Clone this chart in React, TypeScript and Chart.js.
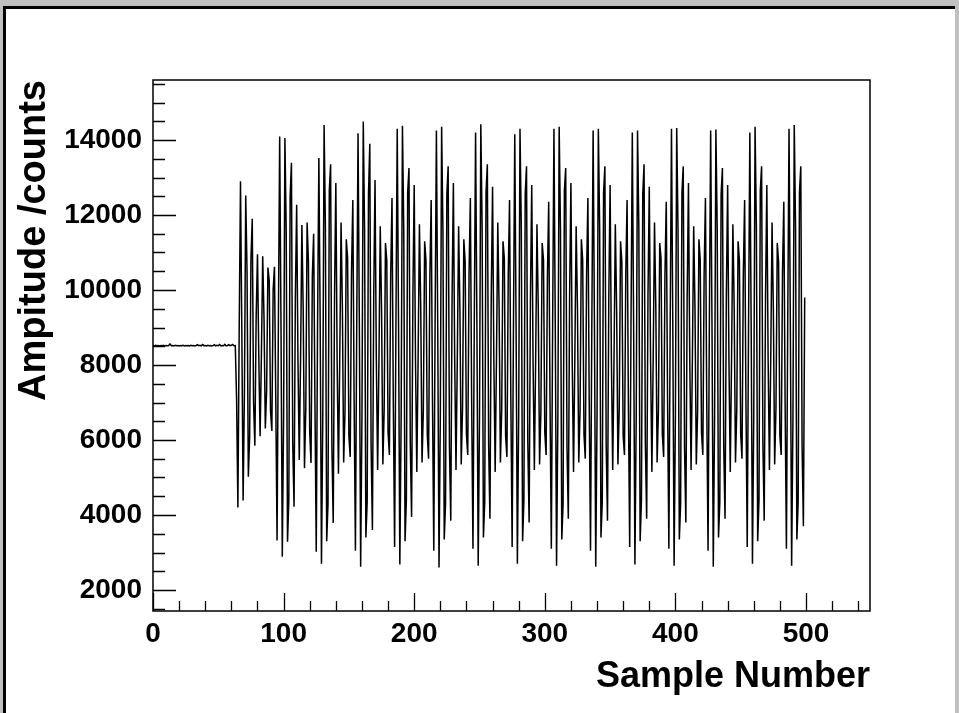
import React, { useEffect, useRef } from "react";
import { Chart, registerables } from "chart.js";

Chart.register(...registerables);

// ---- axis description ----
const xTickValues = [0, 100, 200, 300, 400, 500];
const yTickValues = [2000, 4000, 6000, 8000, 10000, 12000, 14000];
const xRange = [0, 549];
const yRange = [1440, 15600];
const xAxisTitle = "Sample Number";
const yAxisTitle = "Ampitude /counts";

// ---- waveform samples (ADC counts) ----
const flatBaseline = [
  8520, 8510, 8525, 8515, 8520, 8510, 8520, 8515,
  8525, 8510, 8520, 8515, 8520, 8560, 8515, 8520,
  8510, 8525, 8515, 8520, 8510, 8520, 8515, 8525,
  8510, 8520, 8515, 8520, 8510, 8525, 8515, 8520,
  8510, 8520, 8540, 8515, 8525, 8510, 8545, 8515,
  8520, 8510, 8525, 8515, 8520, 8510, 8520, 8540,
  8510, 8525, 8515, 8545, 8510, 8520, 8515, 8550,
  8510, 8520, 8540, 8515, 8525, 8550, 8515, 8520,
];

const onsetSamples = [
  7110, 4200, 8960, 12900, 8950, 4390, 7260, 12520, 10500, 5020,
  6090, 10840, 11900, 7000, 5850, 9300, 10950, 8240, 6100, 8250,
  10900, 9260, 6310, 7300, 10600, 10240, 6760, 6240, 10000, 10620,
  7110, 3320, 9080,
];

const period01 = [
  14090, 9100, 2890, 6650, 14050, 11600, 3290, 4400, 12500, 13390,
  5900, 4220, 9800, 12270, 8150, 5470, 8180, 11730, 9500, 5250,
  6850, 11800, 10750, 6200, 5390, 10350, 11500, 7000, 3020, 9050,
];
const period02 = [
  13520, 9150, 2700, 6600, 14400, 11700, 3300, 4300, 12650, 13350,
  5800, 3790, 9850, 12850, 8100, 5100, 8200, 11800, 9550, 5400,
  6750, 11350, 10850, 6100, 5550, 10450, 12400, 7050, 3050, 9100,
];
const period03 = [
  14180, 9080, 2620, 6650, 14490, 11600, 3400, 4350, 12550, 13900,
  5850, 3600, 9800, 12930, 8150, 5200, 8100, 11700, 9500, 5350,
  6800, 11250, 10800, 6200, 5600, 10400, 12450, 7000, 3150, 9050,
];
const period04 = [
  14300, 9150, 2680, 6600, 14380, 11650, 3300, 4400, 12600, 13250,
  5900, 3950, 9850, 12800, 8100, 5150, 8200, 11750, 9550, 5400,
  6800, 11300, 10800, 6150, 5500, 10400, 12400, 7050, 3050, 9100,
];
const period05 = [
  14250, 9100, 2600, 6650, 14350, 11600, 3350, 4300, 12550, 13300,
  5800, 3850, 9800, 12850, 8150, 5200, 8150, 11700, 9500, 5350,
  6850, 11350, 10750, 6150, 5600, 10450, 12450, 7000, 3100, 9100,
];
const period06 = [
  14200, 9120, 2650, 6600, 14420, 11700, 3400, 4350, 12600, 13350,
  5850, 3900, 9850, 12750, 8100, 5150, 8200, 11800, 9550, 5400,
  6800, 11300, 10850, 6100, 5550, 10400, 12400, 7050, 3150, 9050,
];
const period07 = [
  14150, 9080, 2700, 6650, 14300, 11650, 3300, 4400, 12550, 13300,
  5900, 3800, 9800, 12800, 8150, 5200, 8150, 11750, 9500, 5350,
  6750, 11250, 10800, 6200, 5600, 10350, 12350, 7000, 3100, 9100,
];
const period08 = [
  14300, 9150, 2650, 6600, 14350, 11600, 3350, 4300, 12650, 13250,
  5800, 3900, 9850, 12850, 8100, 5150, 8200, 11700, 9550, 5400,
  6800, 11350, 10800, 6150, 5500, 10450, 12450, 7050, 3050, 9050,
];
const period09 = [
  14250, 9100, 2620, 6650, 14300, 11650, 3400, 4350, 12600, 13300,
  5850, 3850, 9800, 12800, 8150, 5200, 8150, 11750, 9500, 5350,
  6850, 11300, 10750, 6100, 5600, 10400, 12400, 7000, 3150, 9100,
];
const period10 = [
  14200, 9120, 2680, 6600, 14250, 11700, 3300, 4400, 12550, 13350,
  5900, 3900, 9850, 12750, 8100, 5150, 8200, 11800, 9550, 5400,
  6800, 11250, 10850, 6150, 5550, 10400, 12350, 7050, 3100, 9050,
];
const period11 = [
  14300, 9080, 2650, 6650, 14320, 11600, 3350, 4300, 12600, 13300,
  5800, 3800, 9800, 12850, 8150, 5200, 8150, 11700, 9500, 5350,
  6750, 11350, 10800, 6200, 5600, 10450, 12450, 7000, 3050, 9100,
];
const period12 = [
  14250, 9150, 2620, 6600, 14280, 11650, 3400, 4350, 12550, 13250,
  5850, 3900, 9850, 12800, 8100, 5150, 8200, 11750, 9550, 5400,
  6800, 11300, 10800, 6150, 5500, 10400, 12400, 7050, 3150, 9050,
];
const period13 = [
  14200, 9100, 2700, 6650, 14350, 11700, 3300, 4400, 12650, 13300,
  5900, 3850, 9800, 12800, 8150, 5200, 8150, 11800, 9500, 5350,
  6850, 11250, 10750, 6100, 5600, 10450, 12350, 7000, 3100, 9100,
];
const tailSamples = [
  14300, 9120, 2650, 6600, 14400, 11650, 3350, 4350, 12600, 13300,
  5850, 3700, 9800,
];

const amplitude = [
  ...flatBaseline, ...onsetSamples,
  ...period01, ...period02, ...period03, ...period04, ...period05,
  ...period06, ...period07, ...period08, ...period09, ...period10,
  ...period11, ...period12, ...period13, ...tailSamples,
];

const FONT = "'Liberation Sans', Arial, Helvetica, sans-serif";

const rootFramePlugin = {
  id: "rootFrame",
  afterDraw(chart: any) {
    const { ctx, chartArea: a, scales } = chart;
    ctx.save();
    ctx.strokeStyle = "#000";
    ctx.lineWidth = 1.5;
    ctx.strokeRect(a.left, a.top, a.right - a.left, a.bottom - a.top);
    ctx.lineWidth = 1.3;
    ctx.beginPath();
    for (let v = 0; v <= xRange[1]; v += 20) {
      const px = Math.round(scales.x.getPixelForValue(v)) + 0.5;
      const len = v % 100 === 0 ? 18 : 10;
      ctx.moveTo(px, a.bottom);
      ctx.lineTo(px, a.bottom - len);
    }
    for (let v = 1500; v <= yRange[1]; v += 500) {
      const py = Math.round(scales.y.getPixelForValue(v)) + 0.5;
      const len = v % 2000 === 0 ? 23 : 12;
      ctx.moveTo(a.left, py);
      ctx.lineTo(a.left + len, py);
    }
    ctx.stroke();
    ctx.restore();
  },
};

export default function App() {
  const canvasRef = useRef<HTMLCanvasElement | null>(null);

  useEffect(() => {
    if (!canvasRef.current) return;
    const points = amplitude.map((y, i) => ({ x: i, y }));
    const chart = new Chart(canvasRef.current, {
      type: "line",
      data: {
        datasets: [
          {
            data: points,
            borderColor: "#000",
            borderWidth: 1.5,
            pointRadius: 0,
            tension: 0,
            fill: false,
          },
        ],
      },
      options: {
        animation: false,
        responsive: false,
        devicePixelRatio: 1,
        layout: { padding: { left: 0, top: 80, right: 89, bottom: 0 } },
        plugins: { legend: { display: false }, tooltip: { enabled: false } },
        scales: {
          x: {
            type: "linear",
            min: xRange[0],
            max: xRange[1],
            grid: { display: false, drawTicks: false },
            border: { display: false },
            afterBuildTicks: (s: any) => {
              s.ticks = xTickValues.map((v) => ({ value: v }));
            },
            afterFit: (s: any) => {
              s.height = 102;
            },
            ticks: {
              font: { family: FONT, size: 28, weight: "bold" },
              color: "#000",
              padding: 6,
              maxRotation: 0,
              autoSkip: false,
              callback: (v: any) => String(v),
            },
            title: {
              display: true,
              text: xAxisTitle,
              align: "end",
              color: "#000",
              font: { family: FONT, size: 36, weight: "bold" },
              padding: { top: 0, bottom: 14 },
            },
          },
          y: {
            type: "linear",
            min: yRange[0],
            max: yRange[1],
            grid: { display: false, drawTicks: false },
            border: { display: false },
            afterBuildTicks: (s: any) => {
              s.ticks = yTickValues.map((v) => ({ value: v }));
            },
            afterFit: (s: any) => {
              s.width = 153;
            },
            ticks: {
              font: { family: FONT, size: 28, weight: "bold" },
              color: "#000",
              padding: 11,
              autoSkip: false,
              callback: (v: any) => String(v),
            },
            title: {
              display: true,
              text: yAxisTitle,
              align: "end",
              color: "#000",
              font: { family: FONT, size: 38, weight: "bold" },
              padding: { top: 12, bottom: 0 },
            },
          },
        },
      },
      plugins: [rootFramePlugin],
    } as any);
    return () => chart.destroy();
  }, []);

  return (
    <div
      style={{
        position: "fixed",
        left: 0,
        top: 0,
        width: 959,
        height: 713,
        background: "#c0c0c0",
        overflow: "hidden",
      }}
    >
      <div
        style={{
          position: "absolute",
          left: 3,
          top: 6,
          width: 952,
          height: 707,
          background: "#fff",
          borderLeft: "3px solid #000",
          borderTop: "3px solid #000",
          boxSizing: "border-box",
        }}
      />
      <canvas
        ref={canvasRef}
        width={959}
        height={713}
        style={{ position: "absolute", left: 0, top: 0 }}
      />
    </div>
  );
}
